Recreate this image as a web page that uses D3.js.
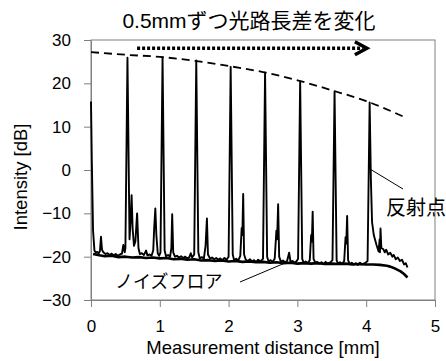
<!DOCTYPE html>
<html>
<head>
<meta charset="utf-8">
<script src="https://cdn.jsdelivr.net/npm/d3@7"></script>
<style>
  body { margin: 0; background: #fff; }
  svg { display: block; font-family: "Liberation Sans", Arial, "Noto Sans CJK JP", sans-serif; }
</style>
</head>
<body>
<div id="app"></div>
<script>
// tick labels
const xTicks = [0, 1, 2, 3, 4, 5];
const yTicks = [-30, -20, -10, 0, 10, 20, 30];

// reflection trace [distance mm, dB] (all measurements overlaid)
const reflTrace = [
  [0.000, 15.8], [0.012, 2.0], [0.030, -14.0], [0.050, -18.6], [0.070, -19.1],
  [0.090, -18.9], [0.110, -19.3], [0.130, -18.7], [0.145, -15.4], [0.160, -18.4],
  [0.180, -19.0], [0.210, -19.4], [0.240, -19.2], [0.270, -19.6], [0.300, -19.3],
  [0.330, -19.7], [0.360, -19.4], [0.390, -19.8], [0.420, -19.5], [0.450, -19.3],
  [0.470, -17.3], [0.490, -19.0], [0.500, -18.0], [0.530, 25.9], [0.560, -16.0],
  [0.575, -12.0], [0.590, -5.8], [0.605, -13.5], [0.625, -17.5], [0.645, -16.5],
  [0.670, -10.0], [0.690, -18.0], [0.710, -19.4], [0.740, -19.2], [0.770, -19.6],
  [0.800, -18.6], [0.820, -19.7], [0.850, -19.5], [0.880, -19.8], [0.905, -18.5],
  [0.918, -13.5], [0.935, -8.9], [0.950, -15.0], [0.970, -19.2], [0.990, -19.8],
  [1.010, -19.0], [1.040, 26.0], [1.070, -18.5], [1.090, -19.9], [1.120, -19.6],
  [1.150, -20.0], [1.168, -18.0], [1.180, -10.2], [1.195, -19.0], [1.220, -20.0],
  [1.250, -19.8], [1.280, -20.2], [1.310, -19.9], [1.340, -20.3], [1.370, -20.0],
  [1.400, -20.4], [1.430, -20.1], [1.450, -19.2], [1.470, -20.2], [1.500, -19.5],
  [1.530, 25.3], [1.560, -19.0], [1.580, -20.4], [1.610, -20.1], [1.640, -20.5],
  [1.665, -17.5], [1.685, -11.2], [1.700, -19.5], [1.730, -20.4], [1.760, -20.2],
  [1.790, -20.6], [1.820, -20.3], [1.850, -20.7], [1.880, -20.4], [1.910, -20.8],
  [1.940, -20.3], [1.970, -20.7], [2.000, -20.0], [2.030, 23.8], [2.060, -19.5],
  [2.080, -20.8], [2.110, -20.5], [2.140, -20.9], [2.170, -19.8], [2.190, -13.4],
  [2.200, -15.0], [2.212, -5.5], [2.225, -19.5], [2.250, -20.7], [2.280, -21.0],
  [2.310, -20.6], [2.340, -21.1], [2.370, -20.8], [2.400, -21.2], [2.430, -20.7],
  [2.460, -21.1], [2.500, -20.5], [2.530, 22.5], [2.560, -20.0], [2.580, -21.1],
  [2.610, -20.8], [2.640, -21.2], [2.670, -20.5], [2.695, -14.0], [2.705, -16.0],
  [2.720, -7.9], [2.735, -20.0], [2.760, -21.2], [2.790, -20.9], [2.820, -21.3],
  [2.850, -21.0], [2.880, -19.1], [2.900, -21.2], [2.930, -21.0], [2.960, -21.4],
  [2.990, -21.0], [3.010, -20.5], [3.040, 20.5], [3.070, -20.5], [3.090, -21.4],
  [3.120, -21.1], [3.150, -21.5], [3.180, -20.8], [3.200, -15.0], [3.210, -16.5],
  [3.222, -9.6], [3.235, -20.5], [3.260, -21.4], [3.290, -21.2], [3.320, -21.6],
  [3.350, -21.3], [3.380, -21.7], [3.410, -21.2], [3.440, -21.6], [3.480, -21.3],
  [3.510, -20.8], [3.540, 18.1], [3.570, -20.8], [3.590, -21.6], [3.620, -21.3],
  [3.650, -21.7], [3.680, -21.0], [3.700, -15.5], [3.710, -17.0], [3.723, -10.6],
  [3.737, -20.8], [3.760, -21.7], [3.790, -21.4], [3.820, -21.8], [3.850, -21.5],
  [3.880, -21.9], [3.910, -21.4], [3.940, -21.8], [3.980, -21.5], [4.020, -21.0],
  [4.050, 15.6], [4.068, -2.0], [4.085, -12.0], [4.110, -15.0], [4.150, -17.3],
  [4.180, -18.8], [4.195, -16.0], [4.200, -19.0], [4.208, -13.5], [4.220, -18.0],
  [4.250, -18.3], [4.270, -19.0], [4.290, -18.4], [4.320, -19.5], [4.350, -19.1],
  [4.380, -20.0], [4.400, -19.6], [4.430, -20.6], [4.460, -20.2], [4.490, -21.0],
  [4.520, -20.7], [4.550, -21.8], [4.575, -21.5], [4.600, -22.5]
];

// noise floor trace [distance mm, dB]
const noiseFloor = [
  [0.03, -19.4], [0.10, -19.6], [0.20, -19.9], [0.30, -19.8], [0.40, -20.1],
  [0.50, -20.0], [0.60, -20.2], [0.70, -20.1], [0.80, -20.3], [0.90, -20.2],
  [1.00, -20.4], [1.10, -20.3], [1.20, -20.6], [1.30, -20.5], [1.40, -20.7],
  [1.50, -20.6], [1.60, -20.9], [1.70, -20.8], [1.80, -21.0], [1.90, -20.9],
  [2.00, -21.1], [2.10, -21.0], [2.20, -21.2], [2.30, -21.1], [2.40, -21.3],
  [2.50, -21.2], [2.60, -21.4], [2.70, -21.3], [2.80, -21.5], [2.90, -21.4],
  [3.00, -21.6], [3.10, -21.5], [3.20, -21.6], [3.30, -21.5], [3.40, -21.7],
  [3.50, -21.6], [3.60, -21.7], [3.70, -21.6], [3.80, -21.8], [3.90, -21.7],
  [4.00, -21.8], [4.10, -21.8], [4.20, -21.9], [4.30, -22.1], [4.35, -22.3],
  [4.40, -22.6], [4.45, -23.0], [4.50, -23.4], [4.55, -24.0], [4.60, -24.8]
];

// dashed envelope of the peak tops
const envelope = [
  [0, 27.2], [0.5, 26.6], [1, 26.1], [1.5, 25.2], [2, 24.0],
  [2.5, 22.6], [3, 20.7], [3.5, 18.4], [4, 15.9], [4.53, 12.4]
];

// dotted arrow (shift direction)
const arrowX = [0.67, 4.01];
const arrowY = 28.1;

const chart = () => {
  const width = 446;
  const height = 361;
  const marginTop = 40;
  const marginRight = 11;
  const marginBottom = 61;
  const marginLeft = 91;
  const grey = "#808080";

  const x = d3.scaleLinear().domain([0, 5]).range([marginLeft, width - marginRight]);
  const y = d3.scaleLinear().domain([-30, 30]).range([height - marginBottom, marginTop]);

  const svg = d3.create("svg").attr("width", width).attr("height", height);

  // frame
  svg.append("rect")
    .attr("x", x(0)).attr("y", y(30))
    .attr("width", x(5) - x(0)).attr("height", y(-30) - y(30))
    .attr("fill", "none").attr("stroke", grey);

  const gx = svg.append("g")
    .attr("transform", `translate(0,${y(-30)})`)
    .call(d3.axisBottom(x).tickValues(xTicks).tickFormat(d3.format("d"))
      .tickSize(7).tickSizeOuter(0).tickPadding(13));
  const gy = svg.append("g")
    .attr("transform", `translate(${x(0)},0)`)
    .call(d3.axisLeft(y).tickValues(yTicks).tickSize(7).tickSizeOuter(0).tickPadding(13));

  [gx, gy].forEach((g) => {
    g.select(".domain").attr("stroke", grey);
    g.selectAll(".tick line").attr("stroke", grey);
    g.selectAll(".tick text")
      .attr("fill", "#000")
      .style("font-size", "17px")
      .style("font-family", "'Liberation Sans', Arial, sans-serif");
  });

  const line = d3.line().x((d) => x(d[0])).y((d) => y(d[1]));

  svg.append("path")
    .datum(noiseFloor)
    .attr("fill", "none").attr("stroke", "#000")
    .attr("stroke-width", 2.6).attr("stroke-linejoin", "round")
    .attr("d", line);

  svg.append("path")
    .datum(reflTrace)
    .attr("fill", "none").attr("stroke", "#000")
    .attr("stroke-width", 1.9).attr("stroke-linejoin", "round")
    .attr("d", line);

  svg.append("path")
    .datum(envelope)
    .attr("fill", "none").attr("stroke", "#000")
    .attr("stroke-width", 1.8).attr("stroke-dasharray", "8,5")
    .attr("d", line.curve(d3.curveMonotoneX));

  // dotted arrow
  svg.append("line")
    .attr("x1", x(arrowX[0])).attr("x2", x(arrowX[1]) - 4)
    .attr("y1", y(arrowY)).attr("y2", y(arrowY))
    .attr("stroke", "#000").attr("stroke-width", 3.5)
    .attr("stroke-dasharray", "3,2");
  svg.append("path")
    .attr("d", `M${x(arrowX[1]) - 12},${y(arrowY) - 6.5}L${x(arrowX[1])},${y(arrowY)}L${x(arrowX[1]) - 12},${y(arrowY) + 6.5}`)
    .attr("fill", "none").attr("stroke", "#000").attr("stroke-width", 3.5);

  // annotations
  svg.append("line")
    .attr("x1", 370).attr("y1", 169).attr("x2", 403).attr("y2", 189)
    .attr("stroke", "#000").attr("stroke-width", 1);
  svg.append("text")
    .text("反射点")
    .attr("x", 386).attr("y", 215)
    .style("font-size", "20px")
    .style("font-family", "'Noto Sans CJK JP', sans-serif");

  svg.append("line")
    .attr("x1", 240).attr("y1", 282).attr("x2", 285).attr("y2", 263)
    .attr("stroke", "#000").attr("stroke-width", 1);
  svg.append("text")
    .text("ノイズフロア")
    .attr("x", 115).attr("y", 288)
    .style("font-size", "18px")
    .style("font-family", "'Noto Sans CJK JP', sans-serif");

  // titles
  svg.append("text")
    .text("0.5mmずつ光路長差を変化")
    .attr("x", 249).attr("y", 28)
    .attr("text-anchor", "middle")
    .style("font-size", "21px");

  svg.append("text")
    .text("Measurement distance [mm]")
    .attr("x", (x(0) + x(5)) / 2).attr("y", 354)
    .attr("text-anchor", "middle")
    .style("font-size", "18.5px");

  svg.append("text")
    .text("Intensity [dB]")
    .attr("transform", `translate(27,177) rotate(-90)`)
    .attr("text-anchor", "middle")
    .style("font-size", "18.5px");

  return svg.node();
};

d3.select("#app").append(chart);
</script>
</body>
</html>
